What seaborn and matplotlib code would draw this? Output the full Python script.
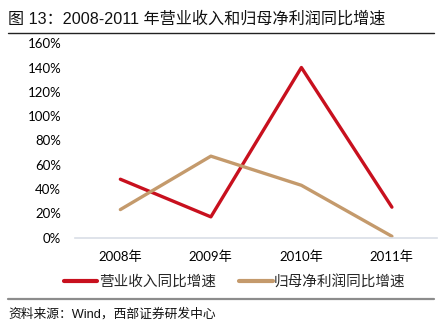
import matplotlib
matplotlib.use("Agg")
import matplotlib.pyplot as plt
from matplotlib.lines import Line2D
from matplotlib.ticker import FuncFormatter
import pandas as pd
import seaborn as sns

years = ["2008年", "2009年", "2010年", "2011年"]
revenue_growth = [0.48, 0.17, 1.40, 0.25]      # 营业收入同比增速
net_profit_growth = [0.23, 0.67, 0.43, 0.01]   # 归母净利润同比增速
series_names = ["营业收入同比增速", "归母净利润同比增速"]
series_colors = ["#C8101E", "#C49A6C"]
y_ticks = [0, 0.2, 0.4, 0.6, 0.8, 1.0, 1.2, 1.4, 1.6]

df = pd.DataFrame({
    "year": years * 2,
    "value": revenue_growth + net_profit_growth,
    "series": [series_names[0]] * 4 + [series_names[1]] * 4,
})

sns.set_theme(style="white")
plt.rcParams["font.family"] = ["Noto Sans CJK SC", "DejaVu Sans"]

fig = plt.figure(figsize=(4.47, 3.35), dpi=100)
ax = fig.add_axes([0.168, 0.291, 0.81, 0.580])

sns.lineplot(data=df, x="year", y="value", hue="series", hue_order=series_names,
             palette=series_colors, linewidth=2.4, sort=False, ax=ax, legend=False)

ax.set_xlim(-0.5, 3.5)
ax.set_ylim(0, 1.6)
ax.set_yticks(y_ticks)
ax.yaxis.set_major_formatter(FuncFormatter(lambda v, _: f"{v * 100:.0f}%"))
ax.set_xlabel("")
ax.set_ylabel("")
for s in ["top", "right", "left"]:
    ax.spines[s].set_visible(False)
ax.spines["bottom"].set_color("#D9DEE6")
ax.spines["bottom"].set_linewidth(1.2)
ax.tick_params(axis="both", length=0, colors="#000000")
ax.tick_params(axis="y", pad=10)
ax.tick_params(axis="x", pad=9)
tick_family = ["Lato", "Noto Sans CJK SC"]
for lab in ax.get_yticklabels():
    lab.set_fontfamily(tick_family)
    lab.set_fontsize(9.5)
for lab in ax.get_xticklabels():
    lab.set_fontfamily(tick_family)
    lab.set_fontsize(9.5)

handles = [Line2D([], [], color=c, linewidth=3) for c in series_colors]
fig.legend(handles, series_names, loc="center", bbox_to_anchor=(0.525, 0.158),
           ncol=2, frameon=False, fontsize=10.5, handlelength=2.3,
           handletextpad=0.1, columnspacing=1.6)

# header, rules and source note
fig.text(0.018, 0.945, "图 13：2008-2011 年营业收入和归母净利润同比增速",
         fontsize=11.6, family=["Liberation Sans", "Noto Sans CJK SC"],
         ha="left", va="center", color="#111111")
fig.add_artist(Line2D([0.018, 0.972], [0.901, 0.901], color="#222222", linewidth=1.0))
fig.add_artist(Line2D([0.018, 0.972], [0.107, 0.107], color="#8C8C8C", linewidth=1.6))
fig.text(0.018, 0.063, "资料来源：Wind，西部证券研发中心", fontsize=9.2,
         family=["Liberation Sans", "Noto Sans CJK SC"], ha="left", va="center",
         color="#111111")

fig.savefig("out.png", dpi=100)
